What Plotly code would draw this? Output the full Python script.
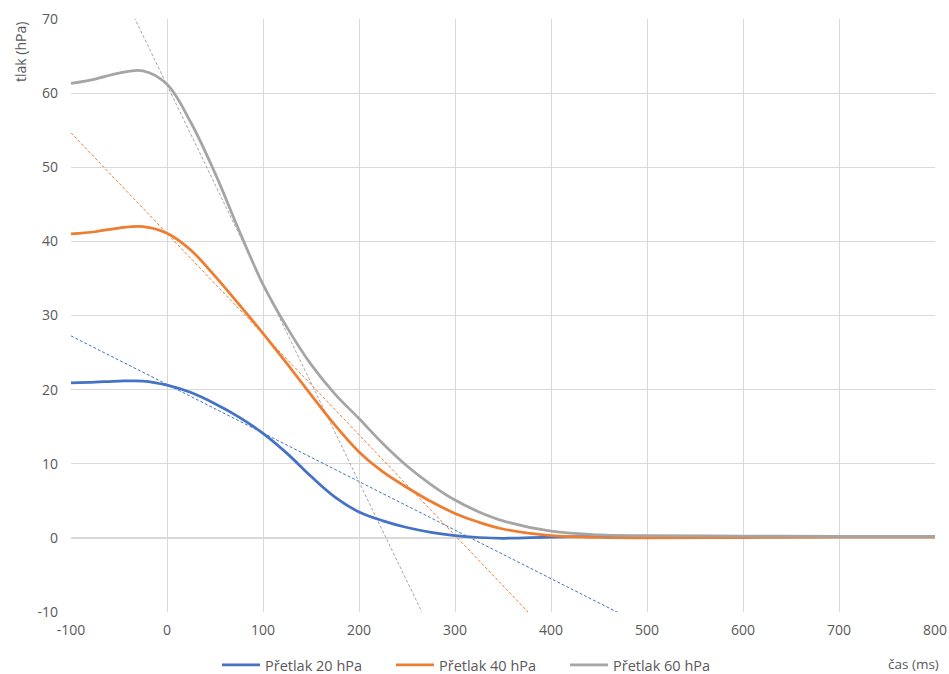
import plotly.graph_objects as go

# time axis (ms)
t = [-100, -75, -50, -25, 0, 25, 50, 75, 100, 125, 150, 175, 200,
     225, 250, 275, 300, 325, 350, 400, 450, 500, 600, 700, 800]

p20 = [20.9, 21.0, 21.15, 21.15, 20.6, 19.6, 18.1, 16.3, 14.1, 11.4, 8.3, 5.5, 3.5,
       2.3, 1.4, 0.75, 0.3, 0.05, -0.05, 0.1, 0.2, 0.2, 0.2, 0.2, 0.2]
p40 = [41.0, 41.3, 41.8, 42.0, 41.1, 38.8, 35.3, 31.5, 27.6, 23.5, 19.3, 15.2, 11.6,
       8.9, 6.8, 4.9, 3.3, 2.1, 1.2, 0.3, 0.05, 0.0, 0.05, 0.1, 0.1]
p60 = [61.3, 61.9, 62.7, 63.0, 61.2, 56.0, 49.2, 41.5, 34.2, 28.4, 23.4, 19.4, 16.1,
       12.7, 9.7, 7.2, 5.1, 3.5, 2.3, 0.9, 0.4, 0.3, 0.25, 0.2, 0.2]

names = ["Přetlak 20 hPa", "Přetlak 40 hPa", "Přetlak 60 hPa"]
colors = ["#4472C4", "#ED7D31", "#A5A5A5"]

# linear trendlines: (slope, intercept)
trend_slope = [-0.0655, -0.1358, -0.2677]
trend_icpt = [20.7, 41.07, 61.08]
trend_x = [-100, 800]

x_ticks = [-100, 0, 100, 200, 300, 400, 500, 600, 700, 800]
x_labels = ["-100", "0", "100", "200", "300", "400", "500", "600", "700", "800"]
y_ticks = [-10, 0, 10, 20, 30, 40, 50, 60, 70]
y_labels = ["-10", "0", "10", "20", "30", "40", "50", "60", "70"]

fig = go.Figure()

for s, b, c in zip(trend_slope, trend_icpt, colors):
    fig.add_trace(go.Scatter(
        x=trend_x, y=[b + s * xx for xx in trend_x], mode="lines",
        line=dict(color=c, width=1, dash="3px,2px"), showlegend=False,
        hoverinfo="skip"))

for ys, n, c in zip([p20, p40, p60], names, colors):
    fig.add_trace(go.Scatter(
        x=t, y=ys, name=n, mode="lines",
        line=dict(color=c, width=2.75, shape="spline", smoothing=1.0)))

tick_font = dict(family="Open Sans", size=14, color="#595959")

W, H = 949, 674
l, r, tp, bt = 71, 14, 19, 62
pw, ph = W - l - r, H - tp - bt


def px_to_paper(px, py):
    return (px - l) / pw, (H - bt - py) / ph


ax1 = px_to_paper(20, 52)
ax2 = px_to_paper(913, 664)
lg = px_to_paper(478, 665)

fig.update_layout(
    width=W, height=H,
    margin=dict(l=l, r=r, t=tp, b=bt, autoexpand=False),
    paper_bgcolor="white", plot_bgcolor="white",
    showlegend=True,
    legend=dict(orientation="h", x=lg[0], xanchor="center", y=lg[1], yanchor="middle",
                font=dict(family="Open Sans", size=14.5, color="#595959"),
                entrywidth=121, entrywidthmode="pixels", itemwidth=38,
                bgcolor="rgba(0,0,0,0)"),
    xaxis=dict(range=[-100, 800], tickvals=x_ticks, ticktext=x_labels, showgrid=True,
               gridcolor="#d9d9d9", gridwidth=1, zeroline=True, zerolinecolor="#d9d9d9",
               zerolinewidth=1, showline=False, tickfont=tick_font, ticks="",
               ticklabelstandoff=8, automargin=False),
    yaxis=dict(range=[-10, 70], tickvals=y_ticks, ticktext=y_labels, showgrid=True,
               gridcolor="#d9d9d9", gridwidth=1, zeroline=True, zerolinecolor="#d9d9d9",
               zerolinewidth=1.5, showline=False, tickfont=tick_font, ticks="",
               ticklabelstandoff=12, automargin=False),
    annotations=[
        dict(text="tlak (hPa)", textangle=-90, x=ax1[0], y=ax1[1], xref="paper", yref="paper",
             xanchor="center", yanchor="middle", showarrow=False,
             font=dict(family="Open Sans", size=14, color="#595959")),
        dict(text="čas (ms)", x=ax2[0], y=ax2[1], xref="paper", yref="paper",
             xanchor="center", yanchor="middle", showarrow=False, borderpad=0,
             font=dict(family="Open Sans", size=13.5, color="#595959")),
    ],
)

fig.write_html("out.html")
